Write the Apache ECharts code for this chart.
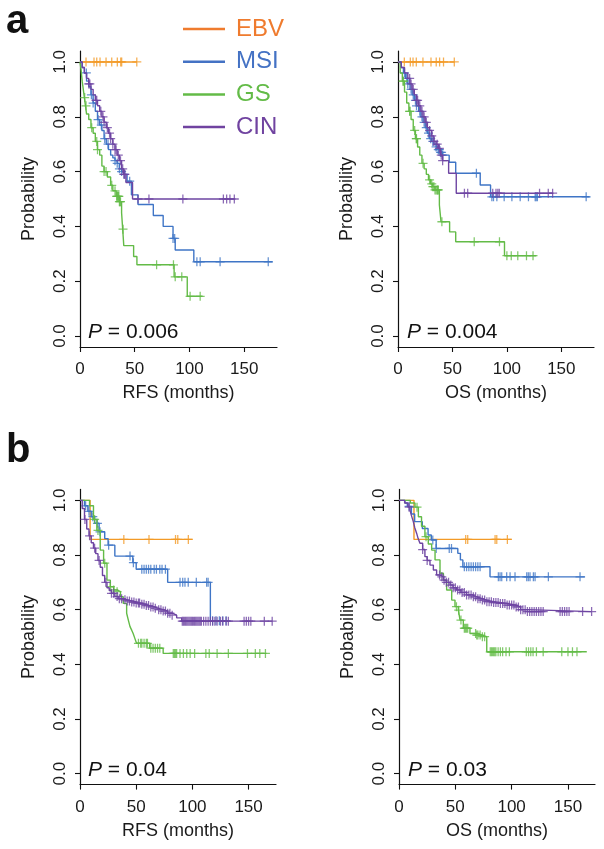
<!DOCTYPE html>
<html>
<head>
<meta charset="utf-8">
<script src="https://cdn.jsdelivr.net/npm/echarts@6/dist/echarts.min.js"></script>
<style>html,body{margin:0;padding:0;background:#fff}#c{width:604px;height:849px}</style>
</head>
<body>
<div id="c"></div>
<script>
// ---------- DATA ----------
const groups = ['EBV', 'MSI', 'GS', 'CIN'];
const xTicks = [0, 50, 100, 150];
const yTicks = [0, 0.2, 0.4, 0.6, 0.8, 1.0];
const pValues = ['0.006', '0.004', '0.04', '0.03'];
const xNames = ['RFS (months)', 'OS (months)', 'RFS (months)', 'OS (months)'];

// Panel a, RFS
const aRfsEbvT = [0];
const aRfsEbvS = [1];
const aRfsEbvC = [5.5, 12.8, 15.3, 18.3, 23.8, 29, 34.1, 37.2, 38.1, 51.9];
const aRfsMsiT = [0, 2, 4, 6, 8, 10, 12, 14, 16, 18, 20, 22, 24, 26, 28, 30, 32, 34, 36, 38, 40, 43, 47, 53, 67, 76, 85, 87, 104];
const aRfsMsiS = [1, 0.98, 0.96, 0.93, 0.91, 0.88, 0.85, 0.82, 0.79, 0.77, 0.75, 0.72, 0.70, 0.68, 0.66, 0.65, 0.64, 0.63, 0.61, 0.60, 0.59, 0.565, 0.515, 0.48, 0.44, 0.40, 0.356, 0.314, 0.271];
const aRfsMsiC = [5.8, 10.4, 12, 16.5, 19.5, 22.6, 25.6, 32, 34, 36, 38, 40.7, 45.4, 85, 86.5, 106.8, 109.8, 128, 172];
const aRfsGsT = [0, 1, 2, 3, 4, 5, 6, 8, 10, 12, 14, 16, 18, 20, 22, 25, 28, 30, 33, 36, 38, 39, 40, 49, 52, 86, 98];
const aRfsGsS = [1, 0.97, 0.93, 0.90, 0.87, 0.84, 0.81, 0.79, 0.76, 0.74, 0.71, 0.68, 0.66, 0.62, 0.60, 0.58, 0.55, 0.53, 0.51, 0.49, 0.45, 0.39, 0.33, 0.29, 0.26, 0.216, 0.145];
const aRfsGsC = [4.3, 5.5, 10.7, 15.3, 16, 22, 23.8, 29, 32, 33.5, 34, 34.5, 35, 35.5, 36, 36.5, 37, 39.3, 70, 85.4, 87, 93, 100.6, 109.8];
const aRfsCinT = [0, 2, 4, 6, 8, 10, 12, 14, 16, 18, 20, 22, 24, 26, 28, 30, 32, 34, 36, 38, 40, 42, 48];
const aRfsCinS = [1, 0.98, 0.96, 0.94, 0.92, 0.90, 0.88, 0.86, 0.84, 0.82, 0.80, 0.78, 0.76, 0.74, 0.72, 0.70, 0.68, 0.66, 0.64, 0.61, 0.59, 0.56, 0.50];
const aRfsCinC = [8, 9, 14.6, 15.3, 19, 21, 22, 25, 27, 28, 30, 32, 33, 35, 37, 39, 40, 41, 53, 63, 94, 131, 134, 137, 141];
const aRfsEnd = [52, 176, 112, 142];

// Panel a, OS
const aOsEbvT = [0];
const aOsEbvS = [1];
const aOsEbvC = [5.8, 11.3, 13.8, 16.8, 22.9, 30.3, 35.1, 38.2, 41.8, 51.7];
const aOsMsiT = [0, 3, 5, 7, 9, 11, 13, 15, 17, 19, 21, 23, 25, 27, 29, 31, 33, 35, 37, 39, 41, 47, 53, 75.5, 85];
const aOsMsiS = [1, 0.98, 0.96, 0.94, 0.92, 0.90, 0.88, 0.86, 0.84, 0.82, 0.80, 0.78, 0.76, 0.74, 0.72, 0.71, 0.70, 0.69, 0.68, 0.67, 0.66, 0.634, 0.594, 0.551, 0.508];
const aOsMsiC = [6, 8, 9, 12, 14, 16, 17, 20, 22, 24, 26, 28, 30, 32, 35, 37, 38, 39, 40, 41, 72, 86.2, 87.7, 90.8, 97.5, 104.6, 112.2, 119.8, 126, 126.9, 128, 172.8];
const aOsGsT = [0, 2, 4, 6, 8, 10, 12, 14, 16, 18, 20, 22, 24, 26, 28, 30, 32, 34, 38, 39.5, 47.4, 53, 97.8];
const aOsGsS = [1, 0.96, 0.93, 0.89, 0.85, 0.82, 0.79, 0.75, 0.72, 0.69, 0.66, 0.63, 0.61, 0.59, 0.57, 0.555, 0.545, 0.533, 0.478, 0.417, 0.38, 0.344, 0.293];
const aOsGsC = [4.6, 5, 10.7, 11, 15.3, 16.8, 17, 23, 29, 31, 32, 33, 34, 35, 36, 36.5, 37, 40.3, 70, 93.2, 100, 104, 110, 118, 124];
const aOsCinT = [0, 3, 6, 9, 11, 13, 15, 17, 19, 21, 23, 25, 27, 29, 31, 33, 35, 37, 39, 41, 46.5, 53.5];
const aOsCinS = [1, 0.98, 0.96, 0.94, 0.92, 0.90, 0.88, 0.86, 0.84, 0.82, 0.80, 0.78, 0.76, 0.75, 0.73, 0.71, 0.70, 0.685, 0.66, 0.64, 0.594, 0.521];
const aOsCinC = [10.7, 12, 14, 17, 18, 20, 22, 24, 26, 29, 31, 33, 36, 38, 39.7, 41, 61, 64, 87, 90, 91.7, 93, 130, 138, 142];
const aOsEnd = [52, 176, 127, 142.7];

// Panel b, RFS
const bRfsEbvT = [0, 9];
const bRfsEbvS = [1, 0.857];
const bRfsEbvC = [39, 61.4, 85, 87, 96.4];
const bRfsMsiT = [0, 4, 7, 10, 13, 17, 22, 25, 31, 47, 50, 78, 116];
const bRfsMsiS = [1, 0.98, 0.96, 0.94, 0.916, 0.885, 0.86, 0.836, 0.796, 0.772, 0.748, 0.70, 0.559];
const bRfsMsiC = [5, 8, 11.4, 15.5, 17.8, 25.5, 44.5, 47.5, 55, 57, 59, 61, 63, 66, 68, 71, 73, 76, 89, 91.4, 93.4, 96.3, 103.5, 112.7, 114, 118, 121, 124, 127, 130];
const bRfsGsT = [0, 8.5, 12, 15, 18, 21, 24, 27, 30, 33, 36, 38.5, 41.5, 43, 44.5, 46, 47.3, 48.8, 50.3, 62, 74];
const bRfsGsS = [1, 0.98, 0.93, 0.89, 0.818, 0.77, 0.708, 0.684, 0.672, 0.666, 0.647, 0.623, 0.587, 0.562, 0.538, 0.525, 0.513, 0.495, 0.477, 0.459, 0.44];
const bRfsGsC = [13, 16, 22, 27, 30, 33, 52, 54, 55, 57, 59, 60, 63, 65, 67, 69, 71, 83, 84, 85, 86, 89, 92, 95, 98, 102, 112, 115, 122, 132, 149, 156, 160, 165];
const bRfsCinT = [0, 2, 4, 6, 8, 10, 12, 14, 16, 18, 20, 22, 24, 26, 28, 31, 34, 38, 42, 46, 50, 54, 58, 62, 66, 70, 74, 78, 82, 86, 90.5];
const bRfsCinS = [1, 0.97, 0.93, 0.895, 0.87, 0.845, 0.825, 0.805, 0.78, 0.755, 0.725, 0.70, 0.68, 0.67, 0.66, 0.648, 0.64, 0.636, 0.632, 0.628, 0.624, 0.62, 0.615, 0.61, 0.605, 0.60, 0.595, 0.587, 0.58, 0.57, 0.558];
const bRfsCinC = [4.4, 8.5, 13, 17, 23, 28, 30, 33, 35, 37, 40, 42, 44, 46, 48, 50, 52, 53, 55, 57, 59, 61, 63, 65, 67, 70, 72, 74, 76, 78, 80, 82, 91, 92, 93, 94, 95, 96, 97, 98, 99, 100, 101, 102, 103, 104, 105, 106, 107, 108, 110, 112, 114, 116, 118, 120, 122, 125, 127, 130, 132, 146, 148, 150, 152, 164, 171];
const bRfsEnd = [100, 133, 166, 171.4];

// Panel b, OS
const bOsEbvT = [0, 13.3];
const bOsEbvS = [1, 0.857];
const bOsEbvC = [59.2, 61, 85.3, 86.8, 96.2];
const bOsMsiT = [0, 5.3, 7.4, 11, 13.9, 20.7, 25.8, 28.7, 33, 52.2, 54.5, 56.7, 80.8];
const bOsMsiS = [1, 0.99, 0.978, 0.95, 0.922, 0.897, 0.873, 0.855, 0.824, 0.806, 0.782, 0.757, 0.72];
const bOsMsiC = [9, 30, 33, 44.6, 46.6, 58, 60, 62, 64, 66, 68, 70, 72, 88.2, 89.7, 91.2, 95.6, 98.6, 103, 113.4, 114.8, 116.3, 119.3, 120.8, 132.6, 160.7];
const bOsGsT = [0, 10, 14.2, 17.2, 20, 23, 26, 29, 32, 36.4, 39.4, 42.3, 46.8, 49.7, 52.7, 54.2, 57.1, 63, 69, 73.5, 77.9];
const bOsGsS = [1, 0.99, 0.975, 0.94, 0.905, 0.867, 0.84, 0.818, 0.782, 0.733, 0.708, 0.672, 0.635, 0.611, 0.598, 0.562, 0.532, 0.513, 0.507, 0.501, 0.446];
const bOsGsC = [16, 24, 51, 53, 55, 58, 59, 60, 61, 68, 69, 70, 72, 74, 76, 81, 82, 83, 84, 85, 86, 88, 90, 92, 95, 98, 113, 115, 117, 119, 122, 128, 144.5, 150, 154, 158];
const bOsCinT = [0, 5, 8, 9.8, 11, 12.7, 14, 15.7, 17, 18.6, 21, 23, 25, 27.5, 30.5, 33.4, 36.4, 39.4, 42, 45.3, 48, 51.2, 55, 60, 65, 69, 74, 77.8, 84, 89.7, 95.6, 103, 108, 113.4];
const bOsCinS = [1, 0.99, 0.975, 0.964, 0.945, 0.922, 0.90, 0.879, 0.86, 0.843, 0.82, 0.794, 0.78, 0.763, 0.745, 0.727, 0.72, 0.708, 0.70, 0.69, 0.68, 0.672, 0.663, 0.654, 0.647, 0.64, 0.635, 0.629, 0.626, 0.623, 0.617, 0.61, 0.60, 0.593];
const bOsCinC = [9, 21, 25, 36, 38, 40, 42, 44, 46, 48, 50, 52, 54, 56, 58, 60, 62, 64, 66, 68, 70, 72, 74, 76, 78, 80, 82, 84, 86, 88, 90, 92, 94, 96, 98, 100, 102, 104, 106, 108, 110, 112, 114, 116, 118, 120, 122, 124, 126, 128, 143, 145, 147, 149, 151, 163, 171];
const bOsEnd = [100, 165.2, 166.7, 171];

// ---------- STYLE / LAYOUT ----------
const lineColors = { EBV: '#F39A26', MSI: '#3F75C6', GS: '#63BB47', CIN: '#6E45A2' };
const legendColors = { EBV: '#EF7B2E', MSI: '#4472C4', GS: '#63BB47', CIN: '#7043A0' };
const FONT = 'Liberation Sans, Arial, Helvetica, sans-serif';
const TXT = '#1a1a1a';

const panels = [
  { grid: { left: 80, top: 51, width: 197, height: 296 }, xMax: 180,
    T: [aRfsEbvT, aRfsMsiT, aRfsGsT, aRfsCinT], S: [aRfsEbvS, aRfsMsiS, aRfsGsS, aRfsCinS], C: [aRfsEbvC, aRfsMsiC, aRfsGsC, aRfsCinC], E: aRfsEnd },
  { grid: { left: 398, top: 51, width: 196, height: 296 }, xMax: 180,
    T: [aOsEbvT, aOsMsiT, aOsGsT, aOsCinT], S: [aOsEbvS, aOsMsiS, aOsGsS, aOsCinS], C: [aOsEbvC, aOsMsiC, aOsGsC, aOsCinC], E: aOsEnd },
  { grid: { left: 80, top: 489.4, width: 196, height: 295.2 }, xMax: 174.4,
    T: [bRfsEbvT, bRfsMsiT, bRfsGsT, bRfsCinT], S: [bRfsEbvS, bRfsMsiS, bRfsGsS, bRfsCinS], C: [bRfsEbvC, bRfsMsiC, bRfsGsC, bRfsCinC], E: bRfsEnd },
  { grid: { left: 399, top: 489.4, width: 196, height: 295.2 }, xMax: 174,
    T: [bOsEbvT, bOsMsiT, bOsGsT, bOsCinT], S: [bOsEbvS, bOsMsiS, bOsGsS, bOsCinS], C: [bOsEbvC, bOsMsiC, bOsGsC, bOsCinC], E: bOsEnd }
];

function stepData(T, S, end) {
  const d = T.map((t, i) => [t, S[i]]);
  d.push([end, S[S.length - 1]]);
  return d;
}
function survAt(T, S, t) {
  let s = S[0];
  for (let i = 0; i < T.length; i++) if (T[i] <= t) s = S[i];
  return s;
}
const PLUS = 'path://M-1.4,-10H1.4V-1.4H10V1.4H1.4V10H-1.4V1.4H-10V-1.4H-1.4Z';

const grids = [], xAxes = [], yAxes = [], series = [], graphics = [];
panels.forEach((p, k) => {
  grids.push(p.grid);
  xAxes.push({
    gridIndex: k, type: 'value', min: 0, max: p.xMax,
    name: xNames[k], nameLocation: 'middle', nameGap: 37,
    nameTextStyle: { fontFamily: FONT, fontSize: 18, color: TXT },
    axisLine: { show: true, onZero: false, lineStyle: { color: '#111', width: 1.2 } },
    axisTick: { show: true, length: 5, lineStyle: { color: '#111', width: 1.1 }, customValues: xTicks },
    axisLabel: { fontFamily: FONT, fontSize: 17, color: TXT, margin: 14, customValues: xTicks },
    splitLine: { show: false }
  });
  yAxes.push({
    gridIndex: k, type: 'value', min: -0.04, max: 1.04,
    name: 'Probability', nameLocation: 'middle', nameGap: 42,
    nameTextStyle: { fontFamily: FONT, fontSize: 18, color: TXT },
    axisLine: { show: true, onZero: false, lineStyle: { color: '#111', width: 1.2 } },
    axisTick: { show: true, length: 5, lineStyle: { color: '#111', width: 1.1 }, customValues: yTicks },
    axisLabel: { fontFamily: FONT, fontSize: 17, color: TXT, margin: 11, rotate: 90,
      customValues: yTicks, formatter: v => v.toFixed(1) },
    splitLine: { show: false }
  });
  groups.forEach((g, j) => {
    series.push({
      name: g, type: 'line', step: 'end', xAxisIndex: k, yAxisIndex: k,
      data: stepData(p.T[j], p.S[j], p.E[j]), symbol: 'none',
      lineStyle: { color: lineColors[g], width: 1.4 }, itemStyle: { color: lineColors[g] },
      silent: true, z: 2 + j
    });
    series.push({
      name: g, type: 'scatter', xAxisIndex: k, yAxisIndex: k,
      data: p.C[j].map(t => [t, survAt(p.T[j], p.S[j], t)]),
      symbol: PLUS, symbolSize: 9, itemStyle: { color: lineColors[g] },
      silent: true, z: 2 + j
    });
  });
  graphics.push({
    type: 'text', left: p.grid.left + (k % 2 ? 9 : 8), top: p.grid.top + p.grid.height - 25,
    style: { text: '{i|P} = ' + pValues[k], fontFamily: FONT, fontSize: 21, fill: '#111',
      rich: { i: { fontStyle: 'italic', fontFamily: FONT, fontSize: 21, fill: '#111' } } }
  });
});
graphics.push({ type: 'text', left: 6, top: 2, style: { text: 'a', fontFamily: FONT, fontWeight: 'bold', fontSize: 40, fill: '#111' } });
graphics.push({ type: 'text', left: 6, top: 431, style: { text: 'b', fontFamily: FONT, fontWeight: 'bold', fontSize: 40, fill: '#111' } });

const chart = echarts.init(document.getElementById('c'), null, { renderer: 'canvas' });
chart.setOption({
  animation: false,
  backgroundColor: '#fff',
  grid: grids, xAxis: xAxes, yAxis: yAxes, series: series,
  legend: {
    left: 178, top: 12, orient: 'vertical', selectedMode: false,
    itemWidth: 42, itemHeight: 2.5, itemGap: 8.7,
    data: groups.map(g => ({ name: g, icon: 'rect', itemStyle: { color: legendColors[g] },
      textStyle: { color: legendColors[g], fontSize: 24, fontFamily: FONT, padding: [0, 0, 0, 6] } })),
    textStyle: { fontSize: 24, fontFamily: FONT, padding: [0, 0, 0, 6] }
  },
  graphic: graphics
});
</script>
</body>
</html>
